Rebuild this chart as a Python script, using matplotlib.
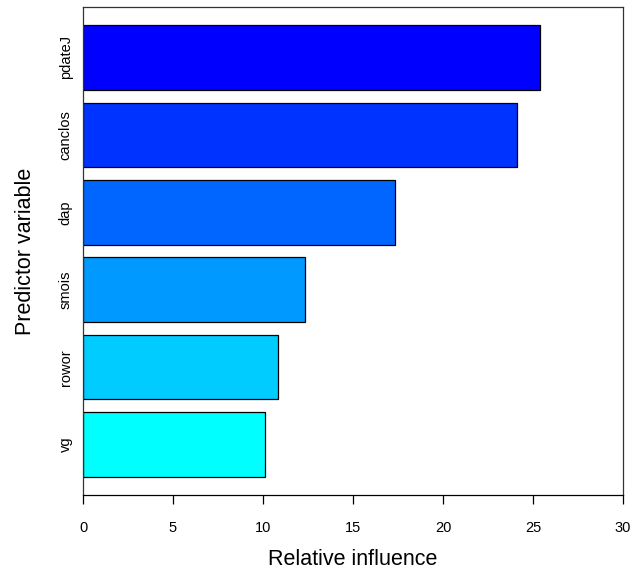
import numpy as np
import matplotlib
matplotlib.use("Agg")
import matplotlib.pyplot as plt

plt.rcParams['font.family'] = ['Liberation Sans', 'DejaVu Sans']

# predictors, bottom to top
predictors = ["vg", "rowor", "smois", "dap", "canclos", "pdateJ"]
influence = [10.1, 10.85, 12.35, 17.35, 24.1, 25.4]
colors = ["#00FFFF", "#00CCFF", "#0099FF", "#0066FF", "#0033FF", "#0000FF"]
xticks = [0, 5, 10, 15, 20, 25, 30]

fig = plt.figure(figsize=(6.3, 5.71), dpi=100)
ax = fig.add_axes([83/630, 76/571, 540/630, 488/571])

# R barplot style: width 1, space 0.2
ypos = 0.2 + np.arange(len(predictors)) * 1.2 + 0.5
ax.barh(ypos, influence, height=1.0, color=colors, edgecolor='black', linewidth=0.9)

ax.set_xlim(0, 30)
ax.set_ylim(-0.08, 7.48)
ax.set_xticks(xticks)
ax.set_xticklabels([str(v) for v in xticks], fontsize=10.5)
ax.set_yticks(ypos)
ax.set_yticklabels(predictors, rotation=90, va='center', fontsize=10.5)
ax.tick_params(axis='y', length=0, pad=7.5)
ax.tick_params(axis='x', length=6.5, width=0.9, pad=12)

for s in ax.spines.values():
    s.set_linewidth(0.9)
    s.set_color('#333333')
ax.spines['bottom'].set_color('black')

ax.set_xlabel("Relative influence", fontsize=15.5, va='center')
ax.set_ylabel("Predictor variable", fontsize=15.5, va='center')
ax.xaxis.set_label_coords(0.5, -0.133)
ax.yaxis.set_label_coords(-0.107, 0.5)

fig.savefig("out.png", dpi=100)
